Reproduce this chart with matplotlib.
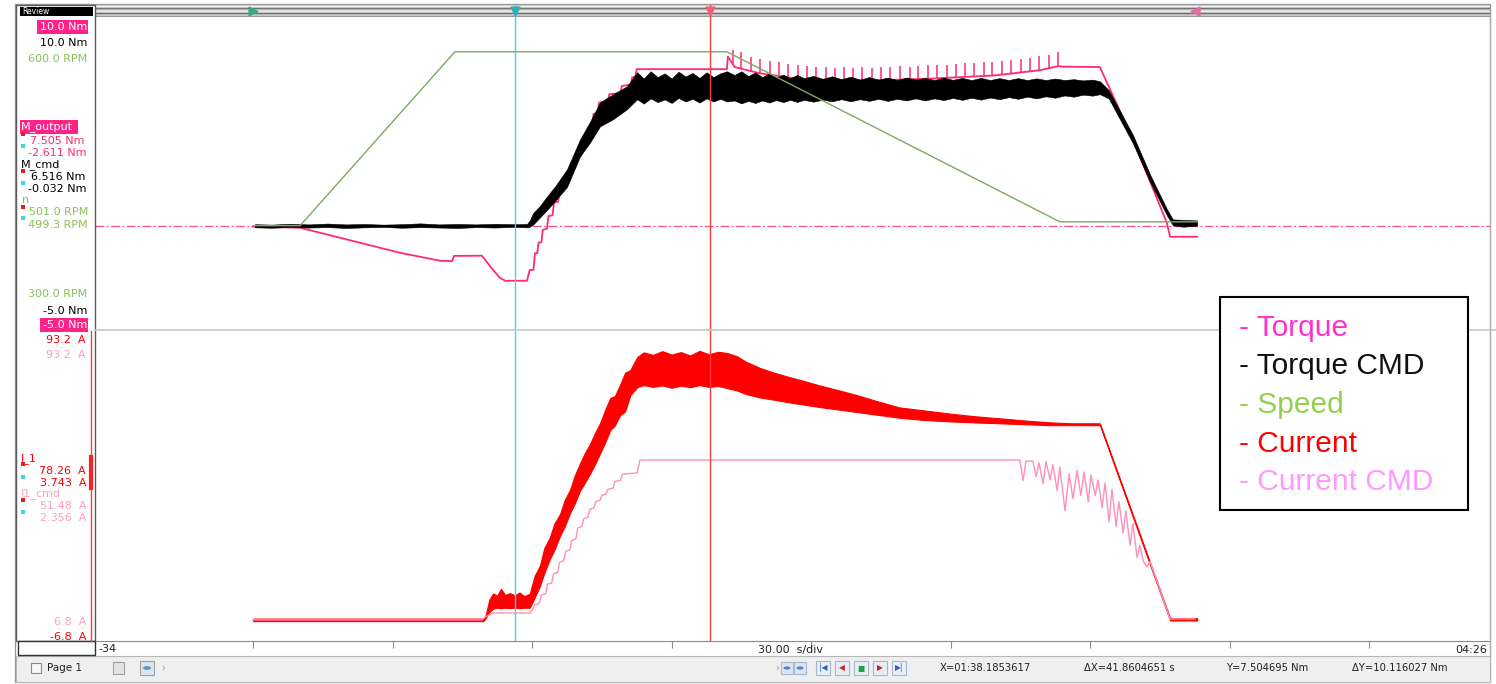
import matplotlib
matplotlib.use("Agg")
import matplotlib.pyplot as plt
from matplotlib.patches import Rectangle, Circle
from matplotlib.lines import Line2D

# ---------------- recorded channels (time in s) ----------------
# M_output : measured torque [Nm]
trq_t = [0.0, 10.1, 31.6, 40.2, 42.8, 43.2, 49.2, 51.6, 53.1, 54.2, 58.9,
         59.5, 60.3, 60.6, 61.1, 61.4, 62.0, 62.3, 63.2, 63.5, 64.4, 64.7, 65.6,
         65.9, 66.8, 67.1, 68.0, 68.3, 69.3, 69.6, 70.5, 70.8, 71.7, 72.0, 72.9,
         73.2, 74.1, 74.4, 76.3, 76.6, 79.0, 79.3, 81.2, 81.5, 82.2, 82.5, 101.9,
         102.1, 103.6, 109.0, 118.5, 132.2, 146.0, 159.5, 169.2, 173.3, 173.9,
         182.1, 189.2, 196.5, 197.2, 203.0]
trq_v = [-0.05, -0.1, -1.30, -1.68, -1.70, -1.45, -1.44, -2.12, -2.50, -2.64, -2.64,
         -2.12, -2.12, -1.32, -1.32, -0.8, -0.8, -0.2, -0.15, 0.45, 0.5, 1.1, 1.15,
         1.65, 1.7, 2.2, 2.25, 2.75, 2.8, 3.3, 3.35, 4.0, 4.05, 4.7, 4.75,
         5.35, 5.4, 5.9, 5.95, 6.3, 6.35, 6.7, 6.75, 7.1, 7.15, 7.5, 7.5,
         8.1, 7.6, 7.3, 7.0, 6.95, 7.05, 7.2, 7.45, 7.65, 7.62,
         7.6, 4.13, 0.14, -0.53, -0.53]

# spikes riding on M_output while the speed ramps down
spk_t = [103.1, 105.0, 107.1, 109.0, 111.2, 113.1, 115.0, 117.2, 119.1, 121.0,
         123.1, 125.2, 127.0, 129.1, 131.0, 133.2, 135.1, 137.0, 139.1, 141.2,
         143.0, 145.1, 147.0, 149.2, 151.1, 153.0, 155.1, 157.2, 159.0, 161.1,
         163.0, 165.2, 167.1, 169.0, 171.1, 173.0]
spk_lo = [7.7, 7.55, 7.4, 7.3, 7.25, 7.2, 7.12, 7.05, 7.0, 7.0,
          6.98, 6.97, 6.96, 6.95, 6.95, 6.95, 6.97, 6.98, 7.0, 7.02,
          7.03, 7.05, 7.06, 7.08, 7.1, 7.13, 7.15, 7.18, 7.2, 7.25,
          7.3, 7.35, 7.4, 7.45, 7.55, 7.65]
spk_hi = [8.4, 8.3, 8.1, 8.0, 7.9, 7.85, 7.75, 7.7, 7.65, 7.6,
          7.6, 7.55, 7.6, 7.55, 7.6, 7.55, 7.6, 7.6, 7.65, 7.6,
          7.65, 7.7, 7.7, 7.7, 7.75, 7.8, 7.8, 7.85, 7.85, 7.9,
          7.95, 8.0, 8.05, 8.15, 8.2, 8.3]

# M_cmd : torque command, min/max envelope [Nm]
cmd_t = [0.4, 4.0, 8.0, 12.0, 16.0, 20.0, 24.0, 28.0, 32.0, 36.0, 40.0, 44.0, 48.0, 52.0, 56.0, 58.9,
         59.5, 60.2, 61.7, 63.2, 65.0, 67.5, 70.3, 72.5, 74.6, 77.4, 80.4,
         82.6, 84.0, 85.5, 87.0, 88.5, 90.0, 91.5, 93.0, 94.5, 96.0, 97.5, 99.0, 100.5,
         101.9, 103.5, 105.0, 106.5, 108.0, 109.5, 111.0, 112.5, 114.0, 115.5, 117.0,
         118.5, 120.5, 122.5, 124.5, 126.5, 128.5, 130.5, 132.5, 134.5, 136.5, 138.5,
         140.5, 142.5, 144.5, 146.5, 148.5, 150.5, 152.5, 154.5, 156.5, 158.5, 160.5,
         162.5, 164.5, 166.5, 168.5, 170.5, 172.5, 174.5, 176.5, 178.5, 180.5, 182.1,
         184.0, 189.2, 193.0, 196.5, 197.8, 200.0, 203.0]
cmd_lo = [-0.08, -0.10, -0.06, -0.09, -0.07, -0.11, -0.08, -0.06, -0.10, -0.07, -0.09, -0.11, -0.07, -0.09, -0.06, -0.08,
          -0.05, 0.05, 0.40, 0.75, 1.20, 1.85, 3.32, 4.00, 4.76, 5.10, 5.58,
          6.06, 5.85, 6.10, 5.92, 6.05, 5.88, 6.12, 5.95, 6.08, 5.90, 6.10, 5.95, 6.08,
          5.95, 6.00, 5.86, 5.98, 5.88, 6.00, 5.90, 6.02, 5.92, 6.03, 5.93,
          6.03, 5.94, 6.04, 5.96, 6.06, 5.96, 6.06, 5.98, 6.08, 5.98, 6.08,
          6.00, 6.10, 6.00, 6.10, 6.02, 6.12, 6.03, 6.13, 6.04, 6.14, 6.06,
          6.16, 6.08, 6.18, 6.10, 6.20, 6.13, 6.24, 6.18, 6.28, 6.23, 6.30,
          6.10, 3.95, 2.05, 0.50, 0.02, -0.05, 0.0]
cmd_hi = [0.07, 0.05, 0.09, 0.06, 0.10, 0.06, 0.08, 0.05, 0.07, 0.11, 0.06, 0.08, 0.06, 0.09, 0.07, 0.08,
          0.25, 0.60, 0.95, 1.40, 1.90, 2.70, 4.13, 5.00, 5.91, 6.30, 6.68,
          7.36, 7.05, 7.40, 7.12, 7.30, 7.05, 7.38, 7.15, 7.32, 7.08, 7.35, 7.12, 7.30,
          7.40, 7.22, 7.40, 7.17, 7.34, 7.12, 7.30, 7.10, 7.24, 7.07, 7.22,
          7.07, 7.18, 7.04, 7.16, 7.02, 7.14, 7.00, 7.12, 7.00, 7.10, 6.98,
          7.10, 7.00, 7.08, 6.98, 7.09, 6.99, 7.08, 6.98, 7.08, 6.98, 7.07,
          6.98, 7.07, 6.98, 7.06, 6.98, 7.05, 6.98, 7.02, 6.96, 7.00, 6.92,
          6.50, 4.35, 2.40, 0.80, 0.30, 0.28, 0.25]

# n : motor speed [RPM]
spd_t = [0.0, 10.1, 43.4, 101.9, 173.5, 203.0]
spd_v = [0.0, 0.0, 500.0, 500.0, 11.0, 11.0]

# I_1 : phase current, min/max envelope [A]
cur_t = [0.0, 49.5, 50.0, 50.8, 51.6, 52.5, 53.3, 54.2, 55.2, 56.3, 57.3, 58.3,
         59.5, 60.5, 61.7, 62.6, 63.8, 64.8, 66.0, 67.0, 68.2, 69.2, 70.3, 71.3,
         72.5, 73.5, 74.6, 75.7, 76.8, 77.8, 78.9, 80.0, 81.1, 82.6,
         84.0, 86.0, 88.0, 90.0, 92.0, 94.0, 96.0, 98.0, 100.0, 102.0, 104.0, 106.0,
         109.0, 112.0, 115.0, 118.0, 122.0, 126.0, 130.0, 134.0, 139.0, 144.0, 150.0,
         155.0, 160.6, 166.0, 171.4, 176.0, 182.1, 197.2, 203.0]
cur_lo = [-0.4, -0.4, 0.5, 2.5, 3.6, 3.9, 3.7, 3.9, 3.8, 3.9, 3.7, 3.9,
          3.9, 7.0, 11.0, 15.0, 19.5, 22.5, 27.0, 30.0, 34.5, 37.5, 41.6, 44.0,
          47.1, 50.0, 53.5, 57.0, 61.0, 62.5, 65.8, 67.0, 72.2, 74.8,
          75.5, 74.9, 75.4, 74.6, 75.3, 74.8, 75.5, 74.9, 75.2, 74.5, 73.8, 72.6,
          71.5, 70.8, 70.0, 69.3, 68.4, 67.6, 66.8, 66.0, 65.0, 64.3, 63.8,
          63.5, 63.2, 62.9, 62.6, 62.6, 62.6, -0.2, -0.2]
cur_hi = [0.4, 0.4, 1.5, 6.5, 8.5, 7.8, 10.0, 8.0, 8.6, 7.9, 8.8, 7.6,
          8.4, 14.0, 17.5, 23.0, 26.5, 31.0, 34.0, 38.5, 42.0, 46.5, 50.3, 53.5,
          56.7, 60.0, 63.2, 67.5, 71.3, 72.0, 75.5, 79.5, 80.3, 84.5,
          86.0, 85.2, 86.4, 85.3, 86.1, 85.0, 86.5, 85.4, 86.2, 85.8, 84.8, 83.0,
          81.0, 79.5, 78.2, 77.0, 75.3, 73.8, 72.2, 70.4, 68.3, 67.4, 66.3,
          65.5, 64.8, 64.1, 63.5, 63.2, 63.2, 0.6, 0.6]

# I1_cmd : current command [A]
icmd_t = [0.0, 49.2, 50.0, 51.6, 59.5, 60.0, 60.5, 61.5, 62.0, 62.9, 63.3, 64.2,
          64.6, 65.5, 65.9, 66.8, 67.2, 68.1, 68.5, 69.4, 69.8, 70.7, 71.1, 72.0,
          72.4, 73.3, 73.7, 74.6, 75.0, 75.9, 76.3, 77.4, 77.8, 79.0, 79.4, 81.5,
          82.6, 83.2, 164.9,
          165.6, 166.2, 167.7, 168.4, 169.0, 169.9, 170.5, 171.4, 172.0, 172.9,
          173.5, 174.6, 175.5, 176.3, 177.2, 178.0, 178.7, 179.6, 180.2, 181.1,
          181.7, 182.6, 183.2, 184.1, 184.7, 185.6, 186.2, 187.1, 187.7, 188.6,
          189.2, 190.1, 190.7, 191.4, 192.2, 192.9, 197.2, 202.6]
icmd_v = [0.0, 0.0, 1.0, 2.2, 2.2, 3.0, 4.8, 5.2, 8.0, 8.4, 11.5, 11.8,
          14.8, 15.2, 18.5, 19.0, 22.0, 22.5, 25.5, 26.0, 29.5, 30.0, 32.5, 33.0,
          35.5, 36.0, 38.0, 38.4, 40.0, 40.4, 42.0, 42.3, 44.5, 44.8, 46.8, 47.1,
          47.3, 51.4, 51.4,
          44.8, 51.0, 51.0, 46.0, 50.5, 43.8, 51.0, 45.0, 50.0, 41.6,
          49.0, 35.1, 47.0, 39.0, 48.0, 40.0, 47.5, 38.0, 46.5, 40.0,
          45.0, 36.0, 44.0, 31.5, 42.0, 30.0, 38.0, 28.0, 35.0, 24.0,
          31.0, 20.0, 24.0, 19.0, 17.0, 18.7, 0.3, 0.3]

# cursors / scales
cursor_x = 98.1853617
delta_x = 41.8604651
cursor_a = cursor_x - delta_x
marker_end = 202.6
t_lim = (-34, 266)
t_ticks = [0, 30, 60, 90, 120, 150, 180, 210, 240]
trq_lim = (-5.0, 10.0)
spd_lim = (-300.0, 600.0)
cur_lim = (-6.8, 93.2)

c_trq = "#ff2a70"
c_hl = "#ff2288"
c_spd = "#7fa860"
c_spd_txt = "#8cbf5a"
c_cur = "#ff0000"
c_icmd = "#ff90b8"
c_icmd_txt = "#ff9cc0"
c_cyan = "#3fd6e4"
c_red = "#ff3a3a"

W, H = 1496, 684
fig = plt.figure(figsize=(W / 100, H / 100), dpi=100)
fig.patch.set_facecolor("white")


def box(x0, y0, x1, y1):
    return [x0 / W, 1 - y1 / H, (x1 - x0) / W, (y1 - y0) / H]


def rect(x0, y0, x1, y1, **kw):
    fig.patches.append(Rectangle((x0 / W, 1 - y1 / H), (x1 - x0) / W, (y1 - y0) / H,
                                 transform=fig.transFigure, **kw))


def hline(x0, x1, y, **kw):
    fig.lines.append(Line2D([x0 / W, x1 / W], [1 - y / H, 1 - y / H], transform=fig.transFigure, **kw))


def vline(x, y0, y1, **kw):
    fig.lines.append(Line2D([x / W, x / W], [1 - y0 / H, 1 - y1 / H], transform=fig.transFigure, **kw))


def label(x, y, s, color, ha="right", size=8, **kw):
    fig.text(x / W, 1 - y / H, s, color=color, ha=ha, va="center", fontsize=size,
             family="DejaVu Sans", **kw)


# ---------------- frame / chrome ----------------
rect(15, 4, 1490, 682, fc="none", ec="#9a9a9a", lw=1.0)
rect(16, 656, 1490, 682, fc="#efefef", ec="#b8b8b8", lw=0.8)
rect(16, 5, 95, 641, fc="white", ec="#5a5a5a", lw=1.0)
rect(20, 7, 93, 16, fc="black", ec="none")
label(22, 11.5, "Review", "white", ha="left", size=5.5)
rect(18, 641, 95, 655, fc="white", ec="#333333", lw=1.0)

# ---------------- axes ----------------
ax_h = fig.add_axes(box(95, 5, 1490, 17))
ax_t = fig.add_axes(box(95, 17, 1490, 330))
ax_n = ax_t.twinx()
ax_c = fig.add_axes(box(95, 330, 1490, 641))

for ax in (ax_h, ax_t, ax_n, ax_c):
    ax.set_xlim(*t_lim)
    for sp in ax.spines.values():
        sp.set_visible(False)
    ax.set_yticks([])
ax_n.patch.set_visible(False)
ax_t.set_xticks([])
ax_n.set_xticks([])
ax_h.set_xticks([])

# header strip with marker flags
ax_h.set_ylim(0, 1)
ax_h.set_facecolor("#cfcfcf")
for yy, cc in ((0.95, "#f4f4f4"), (0.72, "#6e6e6e"), (0.5, "#f0f0f0"), (0.3, "#6e6e6e"), (0.05, "#9a9a9a")):
    ax_h.axhline(yy, color=cc, lw=1.0)
ax_h.scatter([0], [0.5], marker=">", s=40, color="#3aa87a", zorder=5)
ax_h.scatter([cursor_a], [0.5], marker="v", s=40, color="#2bb0b8", zorder=5)
ax_h.scatter([cursor_x], [0.5], marker="v", s=40, color="#f06070", zorder=5)
ax_h.scatter([marker_end], [0.5], marker="<", s=40, color="#e070a0", zorder=5)
ax_h.axvline(cursor_a, color=c_cyan, lw=1)
ax_h.axvline(cursor_x, color=c_red, lw=1)

# upper panel: torque + speed
ax_t.set_ylim(*trq_lim)
ax_n.set_ylim(*spd_lim)
ax_t.axhline(0, color="#ff4d88", lw=0.9, ls=(0, (7, 2, 1.5, 2)), zorder=1)
ax_t.plot(trq_t, trq_v, color=c_trq, lw=1.3, zorder=3)
ax_t.vlines(spk_t, spk_lo, spk_hi, color=c_trq, lw=1.1, zorder=3)
ax_t.fill_between(cmd_t, cmd_lo, cmd_hi, color="black", lw=0.4, zorder=4)
ax_n.plot(spd_t, spd_v, color=c_spd, lw=1.0, zorder=2)
ax_n.axvline(cursor_a, color=c_cyan, lw=1.0, zorder=6)
ax_n.axvline(cursor_x, color=c_red, lw=1.0, zorder=6)

# lower panel: currents
ax_c.set_ylim(*cur_lim)
ax_c.fill_between(cur_t, cur_lo, cur_hi, color=c_cur, lw=0.8, zorder=3)
ax_c.plot(icmd_t, icmd_v, color=c_icmd, lw=1.0, zorder=4)
ax_c.axvline(cursor_a, color=c_cyan, lw=1.0, zorder=6)
ax_c.axvline(cursor_x, color=c_red, lw=1.0, zorder=6)
ax_c.spines["bottom"].set_visible(True)
ax_c.spines["bottom"].set_color("#8a8a8a")
ax_c.set_xticks(t_ticks)
ax_c.set_xticklabels([])
ax_c.tick_params(axis="x", direction="out", length=5, color="#8a8a8a", width=0.8)

# panel separator
hline(95, 1496, 330, color="#c4ccd4", lw=1.3)
vline(1490, 17, 656, color="#b0b0b0", lw=0.8)

# ---------------- channel labels ----------------
rect(37, 20, 88, 34, fc=c_hl, ec="none")
label(87, 27, "10.0 Nm", "white")
label(87, 43, "10.0 Nm", "black")
label(87, 59, "600.0 RPM", c_spd_txt)

rect(20, 120, 78, 134, fc=c_hl, ec="none")
label(21, 127, "M_output", "white", ha="left")
label(85, 141, "7.505 Nm", c_trq)
label(87, 153, "-2.611 Nm", c_trq)
label(21, 165, "M_cmd", "black", ha="left")
label(85, 177, "6.516 Nm", "black")
label(87, 189, "-0.032 Nm", "black")
label(22, 200, "n", c_spd_txt, ha="left")
label(88, 212, "501.0 RPM", c_spd_txt)
label(88, 225, "499.3 RPM", c_spd_txt)
label(87, 294, "300.0 RPM", c_spd_txt)
label(87, 311, "-5.0 Nm", "black")
rect(40, 318, 88, 332, fc=c_hl, ec="none")
label(87, 325, "-5.0 Nm", "white")

label(86, 340, "93.2  A", c_cur)
label(86, 355, "93.2  A", c_icmd_txt)
label(21, 459, "I_1", c_cur, ha="left")
label(86, 471, "78.26  A", c_cur)
label(86, 483, "3.743  A", c_cur)
label(21, 494, "I1_cmd", c_icmd_txt, ha="left")
label(86, 506, "51.48  A", c_icmd_txt)
label(86, 518, "2.356  A", c_icmd_txt)
label(86, 622, "6.8  A", c_icmd_txt)
label(86, 637, "-6.8  A", c_cur)

for yy, cc in ((134, "#e02020"), (146, c_cyan), (171, "#e02020"), (183, c_cyan),
               (207, "#e02020"), (218, c_cyan), (464, "#e02020"), (477, c_cyan),
               (500, "#e02020"), (512, c_cyan)):
    rect(21, yy - 2, 25, yy + 2, fc=cc, ec="none")

vline(90.5, 331, 641, color="#ff3a3a", lw=1.0)
vline(90.5, 457, 488, color="#ff2020", lw=3.0)

# ---------------- time axis text ----------------
label(98, 649, "-34", "#222222", ha="left", size=8)
label(758, 650, "30.00  s/div", "#222222", ha="left", size=8)
label(1487, 650, "04:26", "#222222", ha="right", size=8)

# ---------------- status bar ----------------
rect(31, 663, 41, 673, fc="#f8f8f8", ec="#8a8a8a", lw=0.8)
label(47, 668, "Page 1", "#222222", ha="left", size=7.5)
rect(113, 662, 124, 674, fc="#e4e4e4", ec="#a0a0a0", lw=0.8)
rect(140, 661, 154, 675, fc="#dce6f2", ec="#a0a0a0", lw=0.8)
fig.patches.append(Circle((147 / W, 1 - 668 / H), 4 / W, transform=fig.transFigure,
                          fc="#5a8fd0", ec="none"))
label(163, 668, "›", "#999999", ha="center", size=7)
label(777, 668, "›", "#999999", ha="center", size=7)
for xx in (787, 800):
    rect(xx - 6, 662, xx + 6, 674, fc="#dce6f2", ec="#a8b8cc", lw=0.8)
    fig.patches.append(Circle((xx / W, 1 - 668 / H), 3.5 / W, transform=fig.transFigure,
                              fc="#4a84cc", ec="none"))
for xx, sym, cc in ((823, "|◀", "#3060c0"), (842, "◀", "#d02020"), (861, "■", "#20a040"),
                    (880, "▶", "#d02020"), (899, "▶|", "#3060c0")):
    rect(xx - 7, 661, xx + 7, 675, fc="#e8eef6", ec="#a8b8cc", lw=0.8)
    label(xx, 668, sym, cc, ha="center", size=5.5)

label(940, 668, "X=01:38.1853617", "#222222", ha="left", size=7.2)
label(1084, 668, "ΔX=41.8604651 s", "#222222", ha="left", size=7.2)
label(1226, 668, "Y=7.504695 Nm", "#222222", ha="left", size=7.2)
label(1352, 668, "ΔY=10.116027 Nm", "#222222", ha="left", size=7.2)

# ---------------- legend box ----------------
rect(1220, 297, 1468, 510, fc="white", ec="black", lw=1.5, zorder=10)
leg = [("- Torque", "#ff33cc"), ("- Torque CMD", "#111111"), ("- Speed", "#92d050"),
       ("- Current", "#ff0000"), ("- Current CMD", "#ff99ff")]
for i, (s, cc) in enumerate(leg):
    fig.text(1239 / W, 1 - (328 + 38.5 * i) / H, s, color=cc, ha="left", va="center",
             fontsize=21.5, family="Liberation Sans", zorder=11)

fig.savefig("out.png", dpi=100)
